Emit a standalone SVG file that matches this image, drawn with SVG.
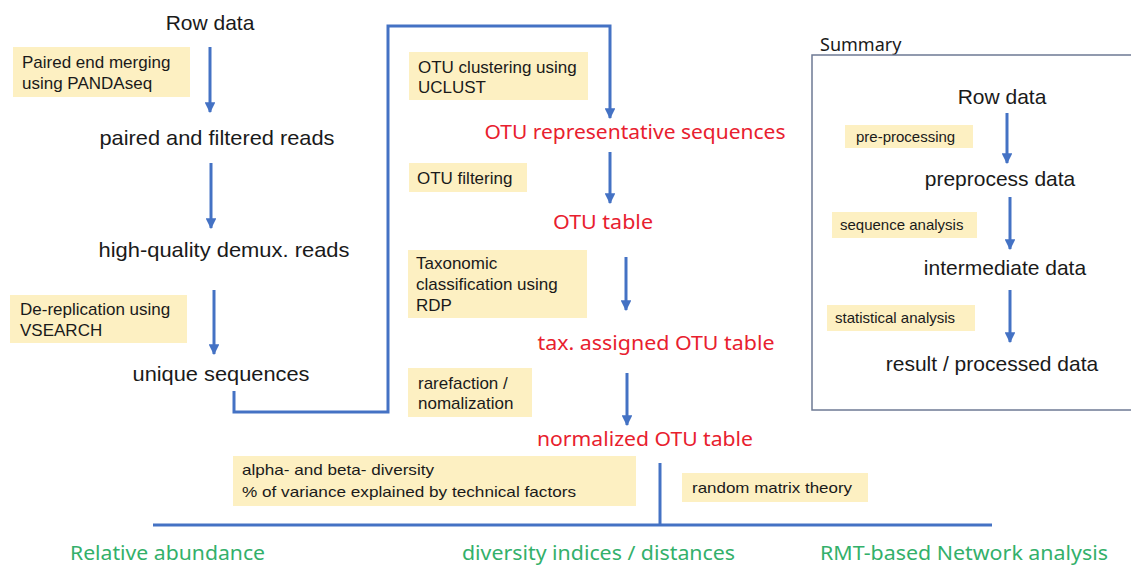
<svg xmlns="http://www.w3.org/2000/svg" width="1131" height="565" viewBox="0 0 1131 565">
<style>
.bg{fill:#ffffff}
.y{fill:#FDF0C2}
.t{font-family:"Liberation Sans",Arial,sans-serif;fill:#1a1a1a}
.big{font-size:21px}
.lab{font-size:17px}
.sm{font-size:15px}
.r{font-family:"Noto Sans","Open Sans",sans-serif;font-size:20px;fill:#E8202E}
.g{font-family:"Noto Sans","Open Sans",sans-serif;font-size:20px;fill:#33B06A}
.ln{stroke:#4472C4;stroke-width:3;fill:none}
.ar{stroke:#4472C4;stroke-width:3;fill:none;marker-end:url(#ah)}
</style>
<defs>
<marker id="ah" viewBox="0 0 10 10" refX="9" refY="5" markerWidth="3.6" markerHeight="3.6" orient="auto" markerUnits="strokeWidth">
<path d="M0,0 L10,5 L0,10 z" fill="#4472C4"/>
</marker>
</defs>
<rect class="bg" x="0" y="0" width="1131" height="565"/>

<g id="connectors">
<line class="ar" x1="210" y1="47" x2="210" y2="112"/>
<line class="ar" x1="211" y1="163" x2="211" y2="228"/>
<line class="ar" x1="214" y1="290" x2="214" y2="354"/>
<path class="ar" d="M234,391 L234,412 L388,412 L388,26 L610,26 L610,118"/>
<line class="ar" x1="610" y1="152" x2="610" y2="203"/>
<line class="ar" x1="626" y1="257" x2="626" y2="310"/>
<line class="ar" x1="627" y1="373" x2="627" y2="425"/>
<line class="ln" x1="660" y1="463" x2="660" y2="525"/>
<line class="ln" x1="153" y1="525" x2="992" y2="525"/>
<line class="ar" x1="1007" y1="113" x2="1007" y2="163"/>
<line class="ar" x1="1010" y1="197" x2="1010" y2="249"/>
<line class="ar" x1="1010" y1="290" x2="1010" y2="342"/>
</g>

<g id="row-data"><text class="t big" x="210" y="30" text-anchor="middle">Row data</text></g>
<g id="lbl-pandaseq"><rect class="y" x="13" y="47" width="177" height="50"/>
<text class="t lab" x="22" y="68">Paired end merging</text>
<text class="t lab" x="22" y="89">using PANDAseq</text></g>
<g id="paired-reads"><text class="t big" x="217" y="145" text-anchor="middle" textLength="235" lengthAdjust="spacingAndGlyphs">paired and filtered reads</text></g>
<g id="hq-reads"><text class="t big" x="224" y="257" text-anchor="middle" textLength="251" lengthAdjust="spacingAndGlyphs">high-quality demux. reads</text></g>
<g id="lbl-vsearch"><rect class="y" x="10" y="295" width="177" height="48"/>
<text class="t lab" x="20" y="315">De-replication using</text>
<text class="t lab" x="20" y="336">VSEARCH</text></g>
<g id="unique-seq"><text class="t big" x="221" y="381" text-anchor="middle" textLength="177" lengthAdjust="spacingAndGlyphs">unique sequences</text></g>

<g id="lbl-uclust"><rect class="y" x="409" y="52" width="179" height="48"/>
<text class="t lab" x="418" y="73">OTU clustering using</text>
<text class="t lab" x="418" y="93">UCLUST</text></g>
<g id="otu-rep"><text class="r" x="635" y="139" text-anchor="middle" textLength="301" lengthAdjust="spacingAndGlyphs">OTU representative sequences</text></g>
<g id="lbl-filter"><rect class="y" x="409" y="163" width="118" height="29"/>
<text class="t lab" x="417" y="184">OTU filtering</text></g>
<g id="otu-table"><text class="r" x="603" y="229" text-anchor="middle" textLength="100" lengthAdjust="spacingAndGlyphs">OTU table</text></g>
<g id="lbl-rdp"><rect class="y" x="408" y="250" width="179" height="68"/>
<text class="t lab" x="416" y="269">Taxonomic</text>
<text class="t lab" x="416" y="290">classification using</text>
<text class="t lab" x="416" y="311">RDP</text></g>
<g id="tax-table"><text class="r" x="656" y="350" text-anchor="middle" textLength="237" lengthAdjust="spacingAndGlyphs">tax. assigned OTU table</text></g>
<g id="lbl-rare"><rect class="y" x="408" y="368" width="124" height="49"/>
<text class="t lab" x="418" y="389">rarefaction /</text>
<text class="t lab" x="418" y="409">nomalization</text></g>
<g id="norm-table"><text class="r" x="645" y="446" text-anchor="middle" textLength="216" lengthAdjust="spacingAndGlyphs">normalized OTU table</text></g>

<g id="lbl-diversity"><rect class="y" x="233" y="456" width="403" height="50"/>
<text class="t sm" x="242" y="475" textLength="192" lengthAdjust="spacingAndGlyphs">alpha- and beta- diversity</text>
<text class="t sm" x="242" y="497" textLength="334" lengthAdjust="spacingAndGlyphs">% of variance explained by technical factors</text></g>
<g id="lbl-rmt"><rect class="y" x="682" y="473" width="186" height="29"/>
<text class="t sm" x="692" y="493" textLength="160" lengthAdjust="spacingAndGlyphs">random matrix theory</text></g>

<g id="out-rel"><text class="g" x="70" y="560" textLength="195" lengthAdjust="spacingAndGlyphs">Relative abundance</text></g>
<g id="out-div"><text class="g" x="462" y="560" textLength="273" lengthAdjust="spacingAndGlyphs">diversity indices / distances</text></g>
<g id="out-rmt"><text class="g" x="820" y="560" textLength="288" lengthAdjust="spacingAndGlyphs">RMT-based Network analysis</text></g>

<g id="summary">
<text x="820" y="51" style="font-family:'Noto Sans','Open Sans',sans-serif;font-size:18px;fill:#1a1a1a">Summary</text>
<rect x="812" y="55" width="330" height="355" fill="none" stroke="#6E7A94" stroke-width="1.5"/>
</g>
<g id="s-row"><text class="t big" x="1002" y="104" text-anchor="middle">Row data</text></g>
<g id="s-lbl-pre"><rect class="y" x="845" y="125" width="128" height="23"/>
<text class="t sm" x="856" y="142">pre-processing</text></g>
<g id="s-pre"><text class="t big" x="1000" y="186" text-anchor="middle">preprocess data</text></g>
<g id="s-lbl-seq"><rect class="y" x="832" y="212" width="145" height="26"/>
<text class="t sm" x="840" y="230">sequence analysis</text></g>
<g id="s-int"><text class="t big" x="1005" y="275" text-anchor="middle">intermediate data</text></g>
<g id="s-lbl-stat"><rect class="y" x="827" y="305" width="148" height="26"/>
<text class="t sm" x="835" y="323">statistical analysis</text></g>
<g id="s-res"><text class="t big" x="992" y="371" text-anchor="middle">result / processed data</text></g>
</svg>
